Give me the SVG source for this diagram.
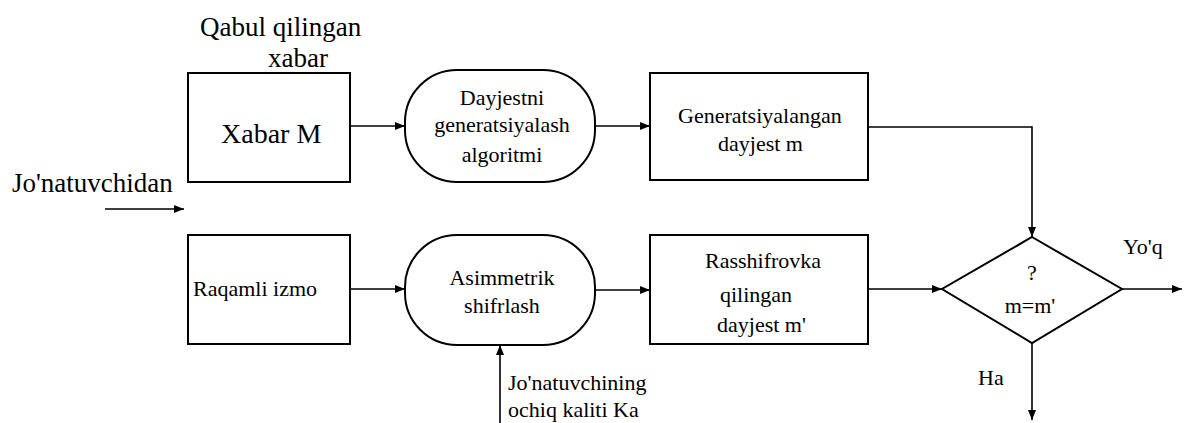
<svg xmlns="http://www.w3.org/2000/svg" width="1184" height="423" viewBox="0 0 1184 423">
<defs>
<marker id="ah" viewBox="0 0 10 8" refX="10" refY="4" markerWidth="10" markerHeight="8" markerUnits="userSpaceOnUse" orient="auto">
<path d="M0,0 L10,4 L0,8 Z" fill="#000"/>
</marker>
</defs>
<rect width="1184" height="423" fill="#fff"/>
<g id="connectors" fill="none" stroke="#000" stroke-width="1.6">
<line x1="105" y1="209" x2="184" y2="209" marker-end="url(#ah)"/>
<line x1="350" y1="126" x2="405" y2="126" marker-end="url(#ah)"/>
<line x1="595" y1="126" x2="650" y2="126" marker-end="url(#ah)"/>
<polyline points="868,127 1032,127 1032,237" marker-end="url(#ah)"/>
<line x1="350" y1="289" x2="405" y2="289" marker-end="url(#ah)"/>
<line x1="595" y1="290" x2="650" y2="290" marker-end="url(#ah)"/>
<line x1="868" y1="289" x2="942" y2="289" marker-end="url(#ah)"/>
<line x1="500" y1="423" x2="500" y2="345" marker-end="url(#ah)"/>
<line x1="1122" y1="289" x2="1182" y2="289" marker-end="url(#ah)"/>
<line x1="1032" y1="343" x2="1032" y2="420" marker-end="url(#ah)"/>
</g>
<g id="labels" fill="#000">
<text font-family="Times New Roman, Liberation Serif, serif" font-size="27" x="200" y="36">Qabul qilingan</text>
<text font-family="Times New Roman, Liberation Serif, serif" font-size="27" x="268" y="67">xabar</text>
<text font-family="Times New Roman, Liberation Serif, serif" font-size="27" x="12" y="192">Jo'natuvchidan</text>
<text font-family="Times New Roman, Liberation Serif, serif" font-size="22" x="508" y="390">Jo'natuvchining</text>
<text font-family="Times New Roman, Liberation Serif, serif" font-size="22" x="508" y="417">ochiq kaliti Ka</text>
<text font-family="Times New Roman, Liberation Serif, serif" font-size="22" x="1123" y="254">Yo'q</text>
<text font-family="Times New Roman, Liberation Serif, serif" font-size="22" x="978" y="385">Ha</text>
</g>
<g id="xabar">
<rect x="188" y="73" width="162" height="109" fill="#fff" stroke="#000" stroke-width="2"/>
<text font-family="Times New Roman, Liberation Serif, serif" font-size="28" x="221" y="143">Xabar M</text>
</g>
<g id="dayjestni">
<rect x="405" y="70" width="190" height="112" rx="52" ry="52" fill="#fff" stroke="#000" stroke-width="2"/>
<text font-family="Times New Roman, Liberation Serif, serif" font-size="22" text-anchor="middle" x="502" y="105">Dayjestni</text>
<text font-family="Times New Roman, Liberation Serif, serif" font-size="22" text-anchor="middle" x="502" y="132">generatsiyalash</text>
<text font-family="Times New Roman, Liberation Serif, serif" font-size="22" text-anchor="middle" x="502" y="162">algoritmi</text>
</g>
<g id="generatsiyalangan">
<rect x="650" y="73" width="218" height="107" fill="#fff" stroke="#000" stroke-width="2"/>
<text font-family="Times New Roman, Liberation Serif, serif" font-size="22" x="678" y="123">Generatsiyalangan</text>
<text font-family="Times New Roman, Liberation Serif, serif" font-size="22" x="718" y="151">dayjest m</text>
</g>
<g id="raqamli">
<rect x="188" y="235" width="162" height="109" fill="#fff" stroke="#000" stroke-width="2"/>
<text font-family="Times New Roman, Liberation Serif, serif" font-size="22" x="193" y="296">Raqamli izmo</text>
</g>
<g id="asimmetrik">
<rect x="405" y="235" width="190" height="110" rx="52" ry="52" fill="#fff" stroke="#000" stroke-width="2"/>
<text font-family="Times New Roman, Liberation Serif, serif" font-size="22" text-anchor="middle" x="502" y="285">Asimmetrik</text>
<text font-family="Times New Roman, Liberation Serif, serif" font-size="22" text-anchor="middle" x="502" y="313">shifrlash</text>
</g>
<g id="rasshifrovka">
<rect x="650" y="235" width="218" height="109" fill="#fff" stroke="#000" stroke-width="2"/>
<text font-family="Times New Roman, Liberation Serif, serif" font-size="22" x="705" y="268">Rasshifrovka</text>
<text font-family="Times New Roman, Liberation Serif, serif" font-size="22" x="720" y="302">qilingan</text>
<text font-family="Times New Roman, Liberation Serif, serif" font-size="22" x="717" y="332">dayjest m'</text>
</g>
<g id="decision">
<polygon points="1032,237 1122,289 1032,343 942,289" fill="#fff" stroke="#000" stroke-width="2"/>
<text font-family="Times New Roman, Liberation Serif, serif" font-size="22" text-anchor="middle" x="1032" y="280">?</text>
<text font-family="Times New Roman, Liberation Serif, serif" font-size="22" text-anchor="middle" x="1030" y="313">m=m'</text>
</g>
</svg>
